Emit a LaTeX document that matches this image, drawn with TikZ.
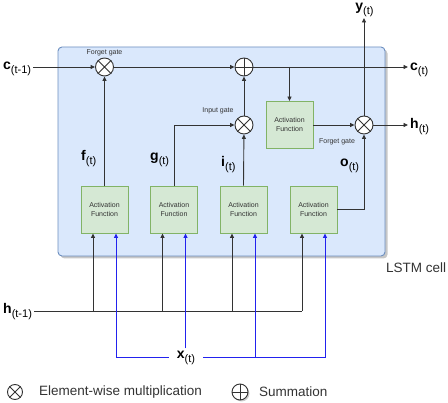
\documentclass[tikz,border=0pt]{standalone}
\usepackage{fontspec}
\setmainfont{Liberation Sans}
\usetikzlibrary{arrows.meta,calc}
\definecolor{cellfill}{HTML}{DAE8FC}
\definecolor{cellline}{HTML}{6C8EBF}
\definecolor{actfill}{HTML}{D5E8D4}
\definecolor{actline}{HTML}{82B366}
\definecolor{inkc}{HTML}{333333}
\definecolor{xblue}{HTML}{2222EE}
\newcommand{\vlab}[2]{{\fontsize{14}{14}\selectfont\bfseries #1}{\fontsize{11}{11}\selectfont\raisebox{-3.5pt}{#2}}}
\begin{document}
\begin{tikzpicture}[x=1pt,y=-1pt,
  line/.style={draw=inkc, line width=0.9pt},
  arr/.style={line, -{Triangle[length=4.5pt,width=4pt]}},
  barr/.style={draw=xblue, line width=0.9pt, -{Triangle[length=4.5pt,width=4pt]}},
  bline/.style={draw=xblue, line width=0.9pt},
  act/.style={draw=actline, fill=actfill, line width=0.9pt, minimum width=47pt, minimum height=47pt,
    align=center, inner sep=0pt, font=\fontsize{7}{9}\selectfont, text=inkc},
  op/.style={circle, draw=inkc, fill=white, line width=0.9pt, minimum size=18pt, inner sep=0pt},
  small/.style={font=\fontsize{7}{8}\selectfont, text=inkc},
  lab/.style={inner sep=2pt, text=black},
  leg/.style={font=\fontsize{13.5}{14}\selectfont, text=inkc, inner sep=0pt}
]
\useasboundingbox (0,0) rectangle (448,403);
% cell
\fill[black!22, rounded corners=4pt] (60.5,49.5) rectangle (387.5,258.5);
\node[draw=cellline, fill=cellfill, line width=0.9pt, rounded corners=4pt,
      minimum width=327pt, minimum height=209pt, inner sep=0pt] (cell) at (221.5,151.5) {};
\node[leg, anchor=west] (cellname) at (386,268) {LSTM cell};

% operators
\node[op] (fmul) at (104.5,67) {};
\node[op] (sum) at (244,67) {};
\node[op] (imul) at (244,125) {};
\node[op] (omul) at (364,125) {};
\foreach \m in {fmul,imul,omul}
  \draw[line] (\m.north east) -- (\m.south west) (\m.north west) -- (\m.south east);
\draw[line] (sum.north) -- (sum.south) (sum.west) -- (sum.east);

% activation boxes
\node[act] (a1) at (104.5,209.5) {Activation\\Function};
\node[act] (a2) at (174,209.5) {Activation\\Function};
\node[act] (a3) at (243.5,209.5) {Activation\\Function};
\node[act] (a4) at (313.5,209.5) {Activation\\Function};
\node[act] (top) at (289.5,125) {Activation\\Function};

% small labels
\node[small] (fg1) at (104.5,53) {Forget gate};
\node[small] (ig) at (218,111) {Input gate};
\node[small] (fg2) at (337,142) {Forget gate};

% external labels
\node[lab, anchor=base west] (cprev) at (1,70) {\vlab{c}{(t-1)}};
\node[lab, anchor=base west] (cnext) at (408,71) {\vlab{c}{(t)}};
\node[lab, anchor=base west] (hnext) at (408,129) {\vlab{h}{(t)}};
\node[lab, anchor=base, inner sep=1pt] (yt) at (364.5,11) {\vlab{y}{(t)}};
\node[lab, anchor=base west] (hprev) at (1,314) {\vlab{h}{(t-1)}};
\node[lab, anchor=base, inner xsep=8pt, inner ysep=3pt] (xt) at (186,359) {\vlab{x}{(t)}};

% gate labels
\node[lab, anchor=base west, inner sep=0pt] (ft) at (81,161) {\vlab{f}{(t)}};
\node[lab, anchor=base west, inner sep=0pt] (gt) at (150,161) {\vlab{g}{(t)}};
\node[lab, anchor=base west, inner sep=0pt] (it) at (221,167) {\vlab{i}{(t)}};
\node[lab, anchor=base west, inner sep=0pt] (ot) at (340,167) {\vlab{o}{(t)}};

% cell state path
\draw[arr] (cprev.east |- fmul) -- (fmul);
\draw[arr] (fmul) -- (sum);
\draw[arr] (sum) -- (cnext.west |- sum);
\draw[arr] (top.north |- sum) -- (top.north);
\draw[arr] (top) -- (omul);
\draw[arr] (omul) -- (hnext.west |- omul);
\draw[arr] (omul) -- (omul |- yt.south);

% gates
\draw[arr] (a1.north) -- (fmul);
\draw[arr] (a2.north) |- (imul);
\draw[arr] (a3.north) -- (imul);
\draw[arr] (imul) -- (sum);
\draw[arr] (a4.east) -| (omul);

% inputs
\coordinate (hL) at (35,311);
\coordinate (xL) at (186,357);
\foreach \b in {a1,a2,a3,a4}{
  \coordinate (\b h) at ($(\b.south)+(-11.5,0)$);
  \coordinate (\b x) at ($(\b.south)+(11.5,0)$);
}
\draw[line] (hprev.east |- hL) -- (a4h |- hL);
\foreach \b in {a1,a2,a3,a4}
  \draw[arr] (\b h |- hL) -- (\b h);
\draw[barr] (xt.west |- xL) -| (a1x);
\draw[barr] (xt.east |- xL) -| (a4x);
\draw[barr] (a2x |- xt.north) -- (a2x);
\draw[barr] (a3x |- xL) -- (a3x);

% legend
\node[circle, draw=inkc, line width=0.9pt, minimum size=15pt, inner sep=0pt] (lmul) at (15,392) {};
\draw[line] (lmul.north east) -- (lmul.south west) (lmul.north west) -- (lmul.south east);
\node[leg, anchor=west] (lmultxt) at (39,392) {Element-wise multiplication};
\fill[black!20] (241.5,393.5) circle (8pt);
\node[circle, draw=inkc, fill=white, line width=0.9pt, minimum size=16pt, inner sep=0pt] (lsum) at (240,392) {};
\draw[line] (lsum.north) -- (lsum.south) (lsum.west) -- (lsum.east);
\node[leg, anchor=west] (lsumtxt) at (259,392) {Summation};
\end{tikzpicture}
\end{document}
